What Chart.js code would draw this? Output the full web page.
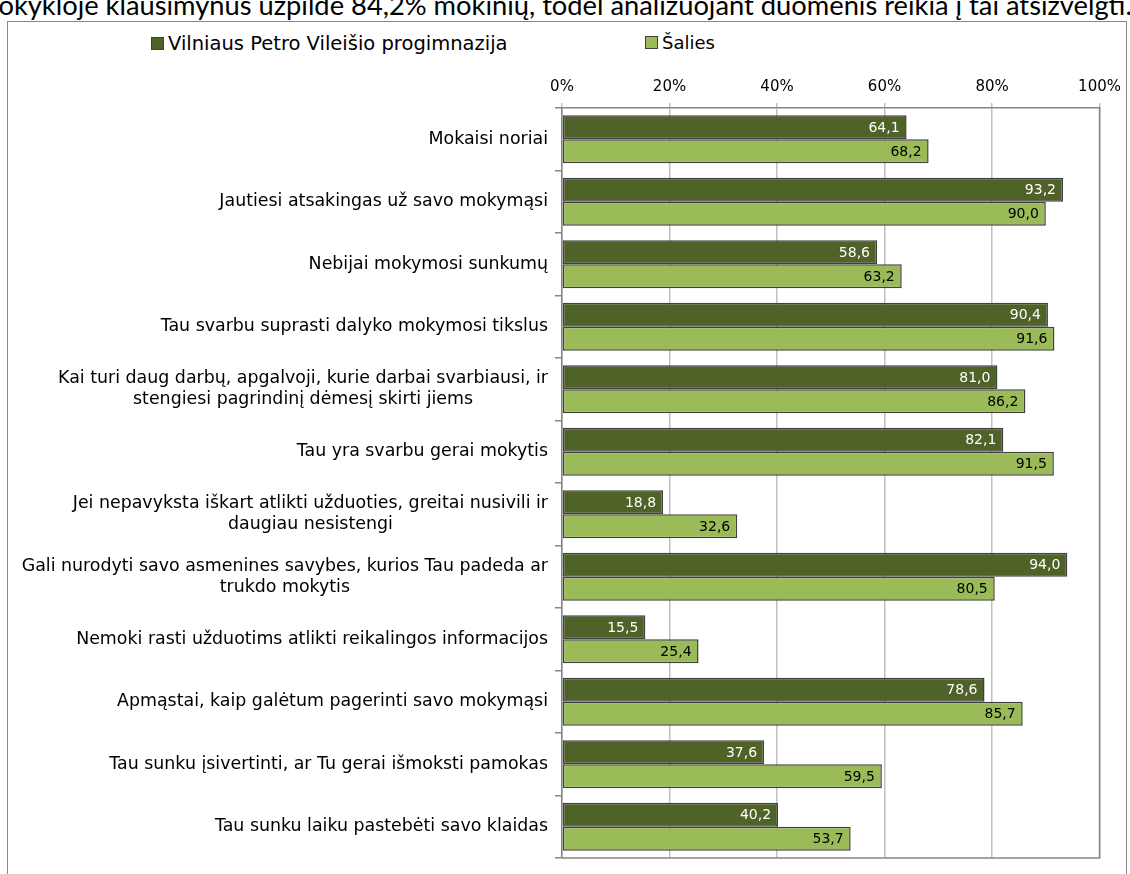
<!DOCTYPE html>
<html>
<head>
<meta charset="utf-8">
<script src="https://cdn.jsdelivr.net/npm/chart.js@4.4.1/dist/chart.umd.min.js"></script>
<style>
    body { margin: 0; background: #fff; width: 1130px; height: 874px; overflow: hidden; position: relative; font-family: Lato, sans-serif; }
    #topline { position: absolute; left: -24px; top: -12px; font-size: 27.3px; white-space: nowrap; color: #000; }
    #frame { position: absolute; left: 7px; top: 21px; width: 1120px; height: 860px; border: 1.5px solid #868686; box-sizing: border-box; }
    #wrap { position: absolute; left: 8px; top: 22px; width: 1120px; height: 852px; }
    .lg { position: absolute; top: 32px; font-family: "DejaVu Sans", sans-serif; font-size: 19.5px; color: #000; display: flex; align-items: center; }
    .lg i { display: inline-block; width: 11px; height: 11px; border: 1px solid #404040; margin-right: 4px; }
</style>
</head>
<body>
<div id="topline">mokykloje klausimynus užpildė 84,2% mokinių, todėl analizuojant duomenis reikia į tai atsižvelgti.</div>
<div id="frame"></div>
<div class="lg" style="left:151px"><i style="background:#4F6228"></i>Vilniaus Petro Vileišio progimnazija</div>
<div class="lg" style="left:645px; font-size:18px"><i style="background:#9BBB59"></i>Šalies</div>
<div id="wrap"><canvas id="chart"></canvas></div>
<script>
// klausimai (kategorijos)
const categories = [
    'Mokaisi noriai',
    'Jautiesi atsakingas už savo mokymąsi',
    'Nebijai mokymosi sunkumų',
    'Tau svarbu suprasti dalyko mokymosi tikslus',
    ['Kai turi daug darbų, apgalvoji, kurie darbai svarbiausi, ir', 'stengiesi pagrindinį dėmesį skirti jiems'],
    'Tau yra svarbu gerai mokytis',
    ['Jei nepavyksta iškart atlikti užduoties, greitai nusivili ir', 'daugiau nesistengi'],
    ['Gali nurodyti savo asmenines savybes, kurios Tau padeda ar', 'trukdo mokytis'],
    'Nemoki rasti užduotims atlikti reikalingos informacijos',
    'Apmąstai, kaip galėtum pagerinti savo mokymąsi',
    'Tau sunku įsivertinti, ar Tu gerai išmoksti pamokas',
    'Tau sunku laiku pastebėti savo klaidas'
];
const seriesNames = ['Vilniaus Petro Vileišio progimnazija', 'Šalies'];
const schoolValues = [64.1, 93.2, 58.6, 90.4, 81.0, 82.1, 18.8, 94.0, 15.5, 78.6, 37.6, 40.2];
const countryValues = [68.2, 90.0, 63.2, 91.6, 86.2, 91.5, 32.6, 80.5, 25.4, 85.7, 59.5, 53.7];
const xTicks = [0, 20, 40, 60, 80, 100];

const FONT = '"DejaVu Sans"';

// kategorijų pavadinimai: kelios eilutės centruojamos tarpusavyje, blokas lygiuojamas dešinėn
const yLabelsPlugin = {
    id: 'yLabels',
    afterDraw(chart) {
        const ctx = chart.ctx;
        const ys = chart.scales.y;
        const right = ys.right - 14;
        ctx.save();
        ctx.font = '17.4px ' + FONT;
        ctx.fillStyle = '#000';
        ctx.textAlign = 'center';
        ctx.textBaseline = 'middle';
        categories.forEach((lab, i) => {
            const lines = Array.isArray(lab) ? lab : [lab];
            const w = Math.max(...lines.map(l => ctx.measureText(l).width));
            const cy = ys.getPixelForValue(i);
            const lh = 21;
            lines.forEach((l, k) => {
                ctx.fillText(l, right - w / 2, cy + (k - (lines.length - 1) / 2) * lh);
            });
        });
        ctx.restore();
    }
};

// reikšmės stulpelių viduje, prie galo
const barLabelsPlugin = {
    id: 'barLabels',
    afterDatasetsDraw(chart) {
        const ctx = chart.ctx;
        ctx.save();
        ctx.font = '14px ' + FONT;
        ctx.textAlign = 'right';
        ctx.textBaseline = 'middle';
        chart.data.datasets.forEach((ds, di) => {
            chart.getDatasetMeta(di).data.forEach((el, i) => {
                ctx.fillStyle = di === 0 ? '#fff' : '#000';
                ctx.fillText(ds.data[i].toFixed(1).replace('.', ','), el.x - 7, el.y + 1);
            });
        });
        ctx.restore();
    }
};

// brėžinio srities rėmelis (dešinė ir apačia)
const plotBorder = {
    id: 'plotBorder',
    beforeDatasetsDraw(chart) {
        const { ctx, chartArea: a } = chart;
        ctx.save();
        ctx.strokeStyle = '#868686';
        ctx.lineWidth = 1.5;
        ctx.beginPath();
        ctx.moveTo(a.right, a.top);
        ctx.lineTo(a.right, a.bottom);
        ctx.lineTo(a.left, a.bottom);
        ctx.stroke();
        ctx.restore();
    }
};

new Chart(document.getElementById('chart'), {
    type: 'bar',
    data: {
        labels: categories,
        datasets: [
            { label: seriesNames[0], data: schoolValues, backgroundColor: '#4F6228', borderColor: '#404040', borderWidth: 1.5, borderSkipped: false },
            { label: seriesNames[1], data: countryValues, backgroundColor: '#9BBB59', borderColor: '#404040', borderWidth: 1.5, borderSkipped: false }
        ]
    },
    options: {
        indexAxis: 'y',
        responsive: true,
        maintainAspectRatio: false,
        animation: false,
        categoryPercentage: 0.77,
        barPercentage: 1,
        layout: { padding: { top: 0, left: 0, right: 28, bottom: 16 } },
        plugins: {
            legend: { display: false },
            tooltip: { enabled: false }
        },
        scales: {
            x: {
                position: 'top',
                min: 0,
                max: 100,
                afterBuildTicks: s => { s.ticks = xTicks.map(v => ({ value: v })); },
                afterFit: s => { s.height = 86; },
                ticks: {
                    callback: v => v + '%',
                    font: { family: 'DejaVu Sans', size: 15 },
                    color: '#000',
                    padding: 7
                },
                grid: { color: '#C0C0C0', lineWidth: 1.5, tickLength: 5 },
                border: { color: '#868686', width: 1.5 }
            },
            y: {
                afterFit: s => { s.width = 554; },
                ticks: { display: false },
                grid: { offset: true, drawOnChartArea: false, color: '#868686', lineWidth: 1.5, tickLength: 7 },
                border: { color: '#868686', width: 1.5 }
            }
        }
    },
    plugins: [yLabelsPlugin, barLabelsPlugin, plotBorder]
});
</script>
</body>
</html>
